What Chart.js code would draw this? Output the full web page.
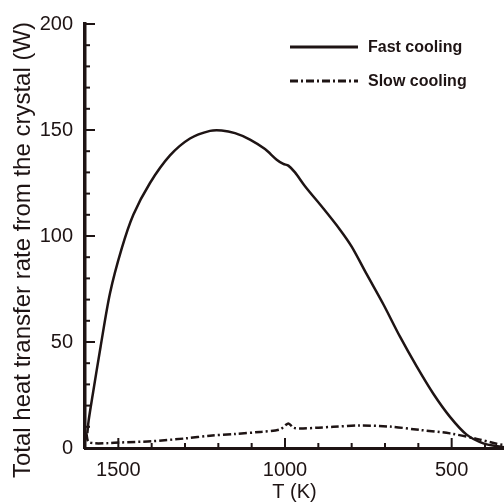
<!DOCTYPE html>
<html>
<head>
<meta charset="utf-8">
<script src="https://cdn.jsdelivr.net/npm/chart.js@4.4.1/dist/chart.umd.min.js"></script>
<style>
  html, body { margin: 0; padding: 0; background: #fff; }
  #wrap { width: 504px; height: 504px; }
</style>
</head>
<body>
<div id="wrap"><canvas id="myChart" width="504" height="504"></canvas></div>
<script>
// Data
const fastT = [1593, 1589, 1577, 1553, 1525, 1490, 1455, 1405, 1345, 1285, 1225, 1190, 1150, 1105, 1060, 1025, 1005, 990, 970, 940, 885, 835, 800, 755, 705, 655, 605, 555, 505, 455, 405, 343];
const fastW = [7, 13, 25, 48, 73, 94, 110, 125, 138, 146, 149.6, 149.8, 148.5, 145.5, 141, 136, 134, 133.2, 130, 123.5, 113, 103, 95, 82, 67.8, 52.5, 38.5, 25.6, 14.7, 6.3, 2.2, 0.3];

const slowT = [1596, 1590, 1570, 1530, 1495, 1400, 1300, 1225, 1150, 1075, 1015, 990, 975, 955, 900, 855, 775, 685, 595, 505, 425, 365, 343];
const slowW = [7, 3, 2.2, 2.3, 2.6, 3.2, 4.5, 5.8, 6.6, 7.6, 8.8, 11.6, 9.6, 9.2, 9.6, 10, 10.6, 10.1, 8.5, 6.9, 4.3, 2.0, 1.4];

const xTickLabels = [1500, 1000, 500];
const yTickLabels = [0, 50, 100, 150, 200];
const yTitle = 'Total heat transfer rate from the crystal (W)';

const ink = '#1e1414';
const fontFam = '"Liberation Sans", Arial, sans-serif';

function toPoints(xs, ys) {
  return xs.map((x, i) => ({ x: x, y: ys[i] }));
}

// Inward tick marks, y title and the legend in the top right
const extras = {
  id: 'extras',
  afterDraw(chart) {
    const { ctx, chartArea, scales: { x, y } } = chart;
    ctx.save();
    ctx.strokeStyle = ink;
    ctx.lineWidth = 2;
    for (let v = 0; v <= 200; v += 10) {
      const py = y.getPixelForValue(v);
      const len = v % 50 === 0 ? 10 : 5;
      ctx.beginPath();
      ctx.moveTo(chartArea.left, py);
      ctx.lineTo(chartArea.left + len, py);
      ctx.stroke();
    }
    for (let t = 400; t <= 1600; t += 100) {
      const px = x.getPixelForValue(t);
      if (px < chartArea.left + 2 || px > chartArea.right) continue;
      const len = t % 500 === 0 ? 10 : 5;
      ctx.beginPath();
      ctx.moveTo(px, chartArea.bottom);
      ctx.lineTo(px, chartArea.bottom - len);
      ctx.stroke();
    }

    // y axis title, sits a bit lower than the axis centre in the original
    ctx.save();
    ctx.translate(23, (chartArea.top + chartArea.bottom) / 2 + 14);
    ctx.rotate(-Math.PI / 2);
    ctx.fillStyle = ink;
    ctx.font = '24px ' + fontFam;
    ctx.textAlign = 'center';
    ctx.textBaseline = 'middle';
    ctx.fillText(yTitle, 0, 0);
    ctx.restore();

    // legend
    const items = chart.data.datasets;
    const rows = [47, 81];
    items.forEach((ds, i) => {
      const ly = rows[i];
      ctx.beginPath();
      ctx.lineWidth = 3;
      ctx.setLineDash(ds.borderDash || []);
      ctx.moveTo(290, ly);
      ctx.lineTo(358, ly);
      ctx.stroke();
      ctx.setLineDash([]);
      ctx.fillStyle = ink;
      ctx.font = 'bold 16px ' + fontFam;
      ctx.textBaseline = 'middle';
      ctx.fillText(ds.label, 368, ly + 1);
    });
    ctx.restore();
  }
};

const ctx = document.getElementById('myChart').getContext('2d');
const myChart = new Chart(ctx, {
  type: 'line',
  data: {
    datasets: [{
      label: 'Fast cooling',
      data: toPoints(fastT, fastW),
      borderColor: ink,
      borderWidth: 2.5,
      pointRadius: 0,
      tension: 0.3,
      fill: false
    }, {
      label: 'Slow cooling',
      data: toPoints(slowT, slowW),
      borderColor: ink,
      borderWidth: 2.5,
      borderDash: [8, 3, 2, 3],
      pointRadius: 0,
      tension: 0.3,
      fill: false
    }]
  },
  options: {
    responsive: false,
    animation: false,
    layout: { padding: { top: 21, right: 0, left: 0, bottom: 0 } },
    plugins: {
      legend: { display: false },
      tooltip: { enabled: false }
    },
    scales: {
      x: {
        type: 'linear',
        reverse: true,
        min: 343,
        max: 1600,
        afterBuildTicks: (scale) => { scale.ticks = xTickLabels.map(v => ({ value: v })); },
        afterFit: (scale) => { scale.height = 56; },
        grid: { display: false, drawTicks: false },
        border: { display: true, color: ink, width: 3 },
        ticks: {
          color: ink,
          padding: 10,
          maxRotation: 0,
          font: { family: fontFam, size: 20 },
          callback: (v) => String(v)
        },
        title: {
          display: true,
          text: 'T (K)',
          color: ink,
          padding: { top: 0, bottom: 0 },
          font: { family: fontFam, size: 20 }
        }
      },
      y: {
        min: 0,
        max: 200,
        afterBuildTicks: (scale) => { scale.ticks = yTickLabels.map(v => ({ value: v })); },
        afterFit: (scale) => { scale.width = 85; },
        grid: { display: false, drawTicks: false },
        border: { display: true, color: ink, width: 3.5 },
        ticks: {
          color: ink,
          padding: 12,
          font: { family: fontFam, size: 20 },
          callback: (v) => String(v)
        }
      }
    }
  },
  plugins: [extras]
});
</script>
</body>
</html>
